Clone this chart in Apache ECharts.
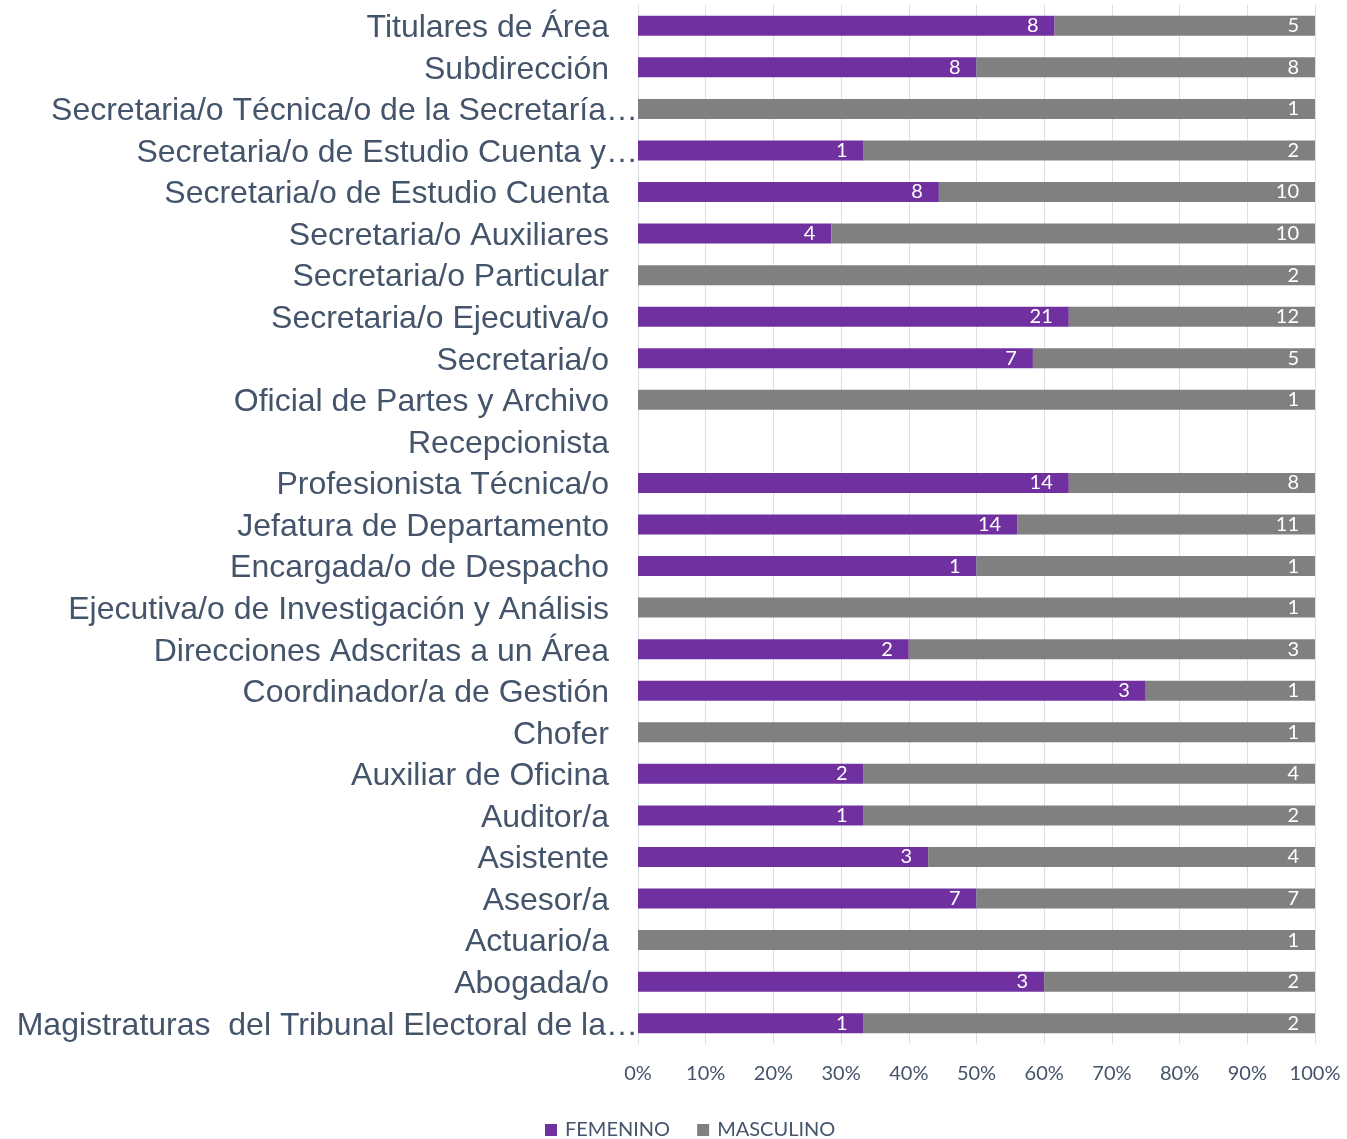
<!DOCTYPE html>
<html>
<head>
<meta charset="utf-8">
<script src="https://cdn.jsdelivr.net/npm/echarts@6/dist/echarts.min.js"></script>
<style>html,body{margin:0;padding:0;background:#fff}#c{width:1347px;height:1139px}</style>
</head>
<body>
<div id="c"></div>
<script>
const categories = [
  "Titulares de Área",
  "Subdirección",
  "Secretaria/o Técnica/o de la Secretaría…",
  "Secretaria/o de Estudio Cuenta y…",
  "Secretaria/o de Estudio Cuenta",
  "Secretaria/o Auxiliares",
  "Secretaria/o Particular",
  "Secretaria/o Ejecutiva/o",
  "Secretaria/o",
  "Oficial de Partes y Archivo",
  "Recepcionista",
  "Profesionista Técnica/o",
  "Jefatura de Departamento",
  "Encargada/o de Despacho",
  "Ejecutiva/o de Investigación y Análisis",
  "Direcciones Adscritas a un Área",
  "Coordinador/a de Gestión",
  "Chofer",
  "Auxiliar de Oficina",
  "Auditor/a",
  "Asistente",
  "Asesor/a",
  "Actuario/a",
  "Abogada/o",
  "Magistraturas  del Tribunal Electoral de la…"
];
const femenino  = [8, 8, 0, 1, 8, 4, 0, 21, 7, 0, 0, 14, 14, 1, 0, 2, 3, 0, 2, 1, 3, 7, 0, 3, 1];
const masculino = [5, 8, 1, 2, 10, 10, 2, 12, 5, 1, 0, 8, 11, 1, 1, 3, 1, 1, 4, 2, 4, 7, 1, 2, 2];
const xTicks = [0, 10, 20, 30, 40, 50, 60, 70, 80, 90, 100];

function pctData(arr, other) {
  return arr.map((v, i) => {
    const t = v + other[i];
    return v > 0 && t > 0 ? { value: v / t * 100, raw: v } : { value: null, raw: 0 };
  });
}

const chart = echarts.init(document.getElementById('c'), null, { renderer: 'canvas' });
const labelCommon = {
  show: true,
  position: 'insideRight',
  distance: 16,
  color: '#ffffff',
  fontFamily: 'Lato',
  fontSize: 20,
  formatter: p => p.data.raw ? String(p.data.raw) : ''
};
const catFont = 'Liberation Sans, Arial';
chart.setOption({
  animation: false,
  grid: { left: 638, right: 32, top: 5, bottom: 95, containLabel: false },
  legend: {
    data: ['FEMENINO', 'MASCULINO'],
    left: 540, top: 1115,
    itemWidth: 12, itemHeight: 12, itemGap: 27,
    icon: 'rect',
    textStyle: { fontFamily: 'Lato', fontSize: 20, color: '#44546a', padding: [0, 0, 0, 3] }
  },
  xAxis: {
    type: 'value', min: 0, max: 100, interval: 10,
    axisLabel: {
      formatter: v => xTicks.includes(v) ? v + '%' : '',
      fontFamily: 'Lato', fontSize: 20, color: '#44546a', margin: 20
    },
    axisLine: { show: false }, axisTick: { show: false },
    splitLine: { show: true, lineStyle: { color: '#d9dee7', width: 1 } }
  },
  yAxis: {
    type: 'category', data: categories, inverse: true,
    axisTick: { show: false },
    axisLine: { show: true, lineStyle: { color: '#d9dee7' } },
    axisLabel: {
      interval: 0, margin: 0,
      fontFamily: catFont, fontSize: 32, color: '#44546a',
      formatter: v => v.endsWith('…') ? '{t|' + v + '}' : '{n|' + v + '}',
      rich: {
        n: { fontFamily: catFont, fontSize: 32, color: '#44546a', padding: [5, 29, 0, 0] },
        t: { fontFamily: catFont, fontSize: 32, color: '#44546a', padding: [5, 0, 0, 0] }
      }
    }
  },
  series: [
    {
      name: 'FEMENINO', type: 'bar', stack: 'total', barWidth: 20,
      itemStyle: { color: '#7030a0' },
      label: labelCommon,
      data: pctData(femenino, masculino)
    },
    {
      name: 'MASCULINO', type: 'bar', stack: 'total', barWidth: 20,
      itemStyle: { color: '#808080' },
      label: labelCommon,
      data: pctData(masculino, femenino)
    }
  ]
});
</script>
</body>
</html>
